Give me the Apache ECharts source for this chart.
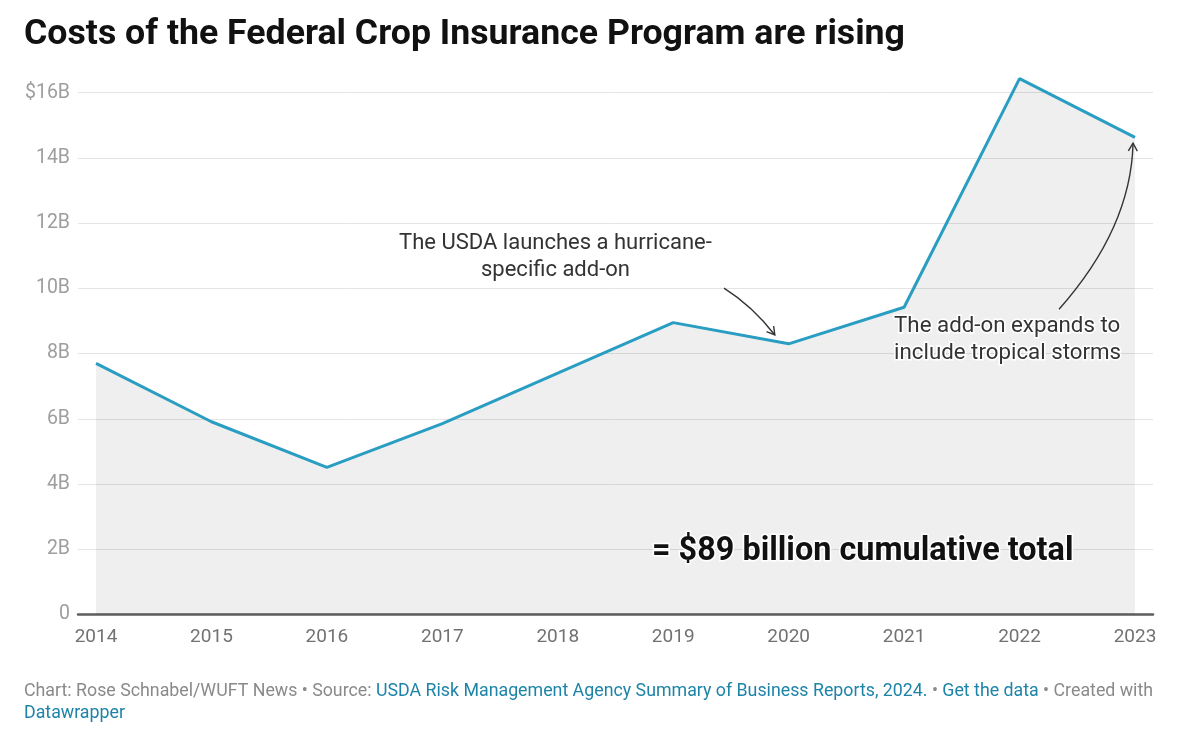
<!DOCTYPE html>
<html>
<head>
<meta charset="utf-8">
<title>Costs of the Federal Crop Insurance Program are rising</title>
<script src="https://cdn.jsdelivr.net/npm/echarts@6/dist/echarts.min.js"></script>
<style>
    html, body { margin: 0; padding: 0; background: #ffffff; }
    #chart { width: 1200px; height: 733px; }
</style>
</head>
<body>
<div id="chart"></div>
<script>
// values in billions of dollars
const years = [2014, 2015, 2016, 2017, 2018, 2019, 2020, 2021, 2022, 2023];
const costs = [7.7, 5.91, 4.51, 5.85, 7.4, 8.95, 8.3, 9.42, 16.43, 14.63];

const yTicks = [0, 2, 4, 6, 8, 10, 12, 14, 16];
const yTickLabels = ["0", "2B", "4B", "6B", "8B", "10B", "12B", "14B", "$16B"];

const hurricaneNote = "The USDA launches a hurricane-\nspecific add-on";
const stormNote = "The add-on expands to\ninclude tropical storms";
const totalNote = "= $89 billion cumulative total";

const FONT = "Roboto";
const LINE_COLOR = "#2a9dc2";
const LINK_COLOR = "#1d84a8";

const chart = echarts.init(document.getElementById("chart"));

const footStyle = { fontFamily: FONT, fontSize: 17.8, fontWeight: "normal", lineHeight: 22 };

chart.setOption({
    animation: false,
    title: [
        {
            text: "Costs of the Federal Crop Insurance Program are rising",
            left: 19,
            top: 12,
            textStyle: {
                fontFamily: FONT,
                fontSize: 35.7,
                fontWeight: "bold",
                color: "#111111"
            }
        },
        {
            text: "{g|Chart: Rose Schnabel/WUFT News • Source: }{b|USDA Risk Management Agency Summary of Business Reports, 2024.}{g| • }{b|Get the data}{g| • Created with}\n{b|Datawrapper}",
            left: 19,
            top: 676,
            textStyle: Object.assign({
                rich: {
                    g: Object.assign({ color: "#8a8a8a" }, footStyle),
                    b: Object.assign({ color: LINK_COLOR }, footStyle)
                }
            }, footStyle)
        }
    ],
    grid: {
        left: 78,
        right: 47,
        top: 92.7,
        bottom: 733 - 614.5
    },
    xAxis: {
        type: "value",
        min: 2013.844,
        max: 2023.156,
        splitLine: { show: false },
        axisTick: { show: false },
        axisLine: {
            show: true,
            lineStyle: { color: "#5e5e5e", width: 2.5 }
        },
        axisLabel: {
            customValues: years,
            margin: 13,
            color: "#727272",
            fontFamily: FONT,
            fontSize: 19,
            formatter: value => String(value)
        }
    },
    yAxis: {
        type: "value",
        min: 0,
        max: 16,
        interval: 2,
        axisLine: { show: false },
        axisTick: { show: false },
        splitLine: {
            lineStyle: { color: "#e4e4e4", width: 1 }
        },
        axisLabel: {
            margin: 8,
            color: "#9e9e9e",
            fontFamily: FONT,
            fontSize: 19.5,
            formatter: value => yTickLabels[yTicks.indexOf(value)]
        }
    },
    series: [
        {
            name: "Cost",
            type: "line",
            clip: false,
            symbol: "none",
            data: years.map((year, i) => [year, costs[i]]),
            lineStyle: { color: LINE_COLOR, width: 3 },
            areaStyle: { color: "rgba(0,0,0,0.062)", opacity: 1 }
        }
    ]
});

// annotations are anchored in data space and converted through the chart's scales
function toPx(point) {
    return chart.convertToPixel({ gridIndex: 0 }, point);
}

function arrow(start, control, end) {
    const p0 = toPx(start);
    const c = toPx(control);
    const p1 = toPx(end);
    const angle = Math.atan2(p1[1] - c[1], p1[0] - c[0]);
    const headLength = 9;
    const spread = Math.PI / 6;
    const left = [
        p1[0] - headLength * Math.cos(angle - spread),
        p1[1] - headLength * Math.sin(angle - spread)
    ];
    const right = [
        p1[0] - headLength * Math.cos(angle + spread),
        p1[1] - headLength * Math.sin(angle + spread)
    ];
    const style = { stroke: "#333333", lineWidth: 1.4, fill: null };
    return [
        {
            type: "bezierCurve",
            shape: { x1: p0[0], y1: p0[1], cpx1: c[0], cpy1: c[1], x2: p1[0], y2: p1[1] },
            style: style,
            z: 50
        },
        {
            type: "polyline",
            shape: { points: [left, p1, right] },
            style: style,
            z: 50
        }
    ];
}

function note(text, anchor, align, fontSize, fontWeight, lineHeight) {
    const p = toPx(anchor);
    return {
        type: "text",
        x: p[0],
        y: p[1],
        z: 60,
        style: {
            text: text,
            align: align,
            verticalAlign: "middle",
            fontFamily: FONT,
            fontSize: fontSize,
            fontWeight: fontWeight,
            lineHeight: lineHeight,
            fill: fontWeight === "normal" ? "#333333" : "#111111",
            stroke: "#ffffff",
            lineWidth: 3
        }
    };
}

chart.setOption({
    graphic: [
        note(hurricaneNote, [2017.98, 10.97], "center", 22, "normal", 27),
        note(stormNote, [2020.913, 8.41], "left", 22.3, "normal", 27),
        note(totalNote, [2018.816, 1.93], "left", 32.4, "bold", 38),
        ...arrow([2019.44, 10.01], [2019.69, 9.45], [2019.88, 8.57]),
        ...arrow([2022.342, 9.36], [2022.966, 11.85], [2022.983, 14.45])
    ]
});
</script>
</body>
</html>
